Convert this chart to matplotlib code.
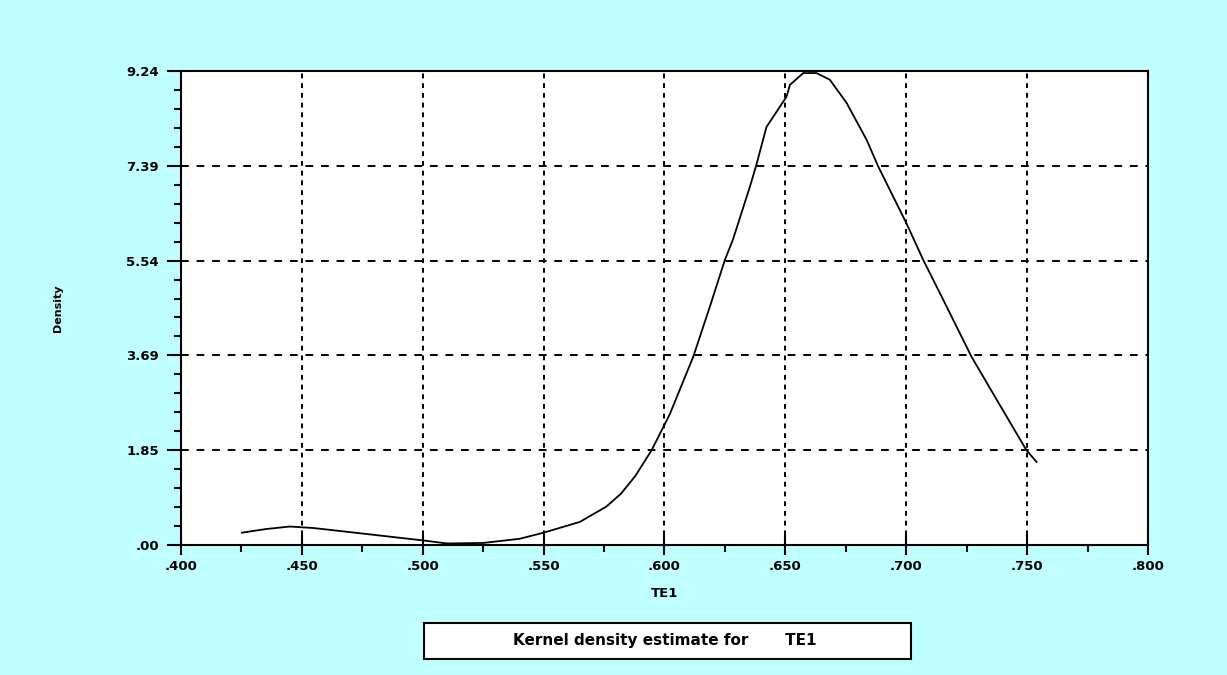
import matplotlib.pyplot as plt
from matplotlib.patches import Rectangle
import numpy as np

plt.rcParams['font.family'] = ['DejaVu Sans']
plt.rcParams['font.weight'] = 'bold'

# kernel density estimate for TE1
te1 = [0.4252, 0.435, 0.445, 0.455, 0.470, 0.485, 0.500, 0.510, 0.525,
       0.540, 0.550, 0.565, 0.576, 0.582, 0.588, 0.5947, 0.6022, 0.6119,
       0.6188, 0.625, 0.6283, 0.6353, 0.638, 0.6422, 0.6505, 0.6519,
       0.6574, 0.6629, 0.6684, 0.6753, 0.6836, 0.6884, 0.7001, 0.707,
       0.7153, 0.727, 0.7387, 0.7497, 0.7539]
density = [0.24, 0.31, 0.36, 0.33, 0.25, 0.17, 0.09, 0.03, 0.04,
           0.12, 0.24, 0.45, 0.75, 1.00, 1.35, 1.85, 2.55, 3.67,
           4.65, 5.56, 5.95, 6.98, 7.41, 8.15, 8.74, 8.97,
           9.20, 9.20, 9.07, 8.62, 7.90, 7.38, 6.27, 5.56,
           4.78, 3.67, 2.73, 1.85, 1.62]

x_ticks = [0.400, 0.450, 0.500, 0.550, 0.600, 0.650, 0.700, 0.750, 0.800]
x_labels = ['.400', '.450', '.500', '.550', '.600', '.650', '.700', '.750', '.800']
y_ticks = [0.0, 1.848, 3.696, 5.544, 7.392, 9.24]
y_labels = ['.00', '1.85', '3.69', '5.54', '7.39', '9.24']

bg = '#C0FFFF'
fig = plt.figure(figsize=(12.27, 6.75), dpi=100, facecolor=bg)
ax = fig.add_axes([0.1475, 0.1926, 0.7881, 0.7022])
ax.set_facecolor('white')

ax.plot(te1, density, color='black', lw=1.3)

ax.set_xlim(0.4, 0.8)
ax.set_ylim(0, 9.24)
ax.set_xticks(x_ticks)
ax.set_xticklabels(x_labels)
ax.set_yticks(y_ticks)
ax.set_yticklabels(y_labels)
ax.set_xticks(np.arange(0.425, 0.8, 0.05), minor=True)
ax.set_yticks(np.arange(0, 9.24, 9.24 / 25), minor=True)

ax.tick_params(axis='x', which='major', direction='inout', length=14, width=1.5,
               labelsize=9.5, pad=4)
ax.tick_params(axis='x', which='minor', direction='out', length=5, width=1.5)
ax.tick_params(axis='y', which='major', direction='out', length=10, width=1.5,
               labelsize=9.5, pad=6)
ax.tick_params(axis='y', which='minor', direction='out', length=5, width=1.5)

for x in x_ticks[1:-1]:
    ax.axvline(x, color='black', lw=1.4, ls=(0, (2.5, 2.5)), zorder=0)
for y in y_ticks[1:-1]:
    ax.axhline(y, color='black', lw=1.4, ls=(0, (4, 4)), zorder=0)

for s in ax.spines.values():
    s.set_linewidth(1.5)

ax.set_xlabel('TE1', fontsize=9.5, fontweight='bold', labelpad=10)
ax.set_ylabel('Density', fontsize=8, fontweight='bold')
ax.yaxis.set_label_coords(-0.122, 0.5)

# caption box under the plot
fig.patches.append(Rectangle((424 / 1227, 16 / 675), 487 / 1227, 36 / 675,
                             transform=fig.transFigure, facecolor='white',
                             edgecolor='black', lw=1.5))
fig.text(665 / 1227, 34 / 675, 'Kernel density estimate for       TE1',
         ha='center', va='center', fontsize=11, fontweight='bold')

fig.savefig('out.png', dpi=100, facecolor=bg)
